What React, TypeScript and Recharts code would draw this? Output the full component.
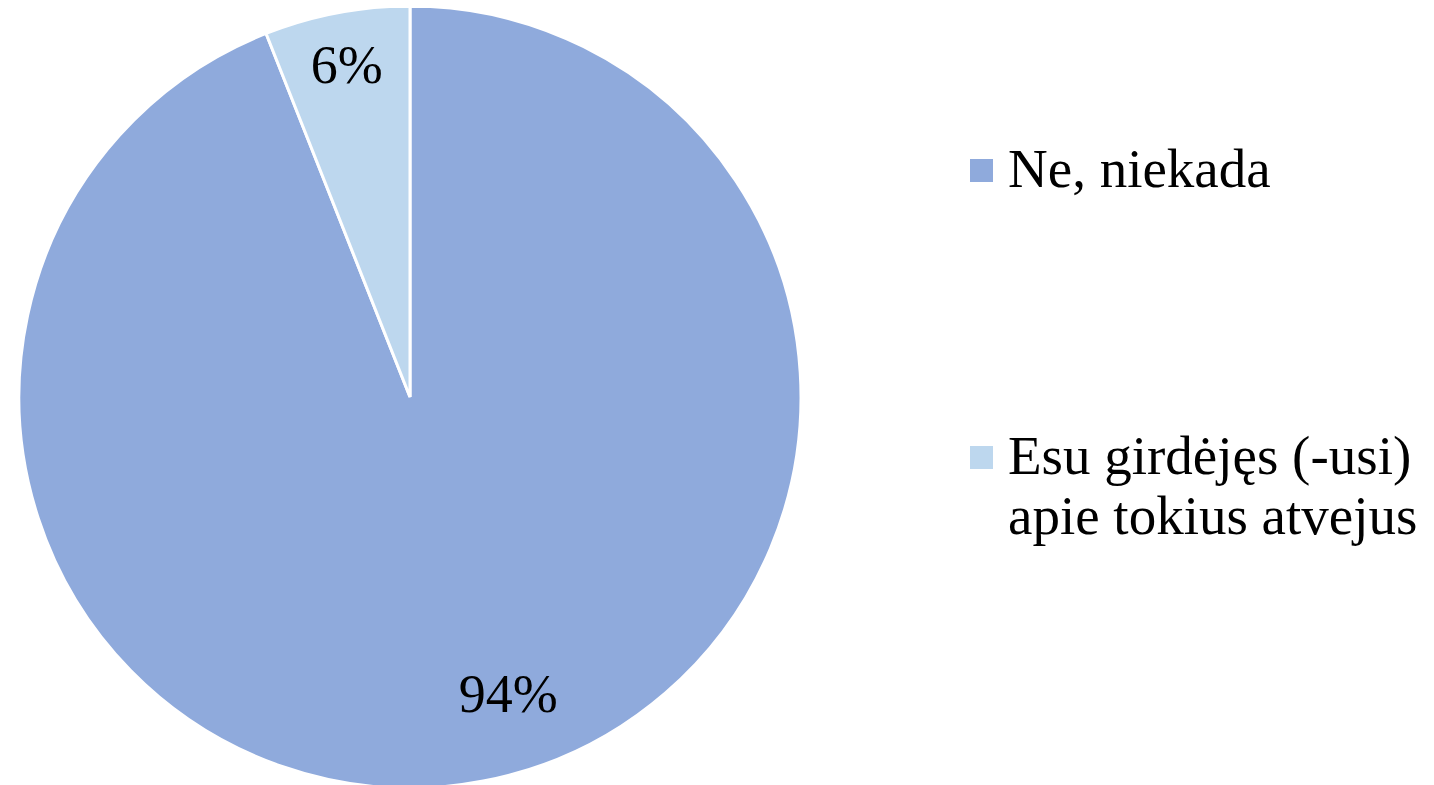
import { Legend, Pie, PieChart, Cell } from "recharts";

const categories = ["Ne, niekada", "Esu girdėjęs (-usi) apie tokius atvejus"];
const shares = [94, 6];
const colors = ["#8FAADC", "#BDD7EE"];

const data = categories.map((name, i) => ({ name, value: shares[i] }));

const FONT = '"Liberation Serif", "Times New Roman", serif';
const RAD = Math.PI / 180;

// Excel "best fit" puts the big label a bit off its mid angle
const labelRadius = [0.8, 0.865];
const labelShift = [7.5, 0];

function renderLabel(props: any) {
  const { cx, cy, midAngle, outerRadius, index, value } = props;
  const r = outerRadius * labelRadius[index];
  const a = (midAngle + labelShift[index]) * RAD;
  const x = cx + r * Math.cos(-a);
  const y = cy + r * Math.sin(-a);
  return (
    <text
      x={x}
      y={y}
      textAnchor="middle"
      dominantBaseline="central"
      fill="#000"
      fontFamily={FONT}
      fontSize={54}
    >
      {`${value}%`}
    </text>
  );
}

function LegendBox() {
  const lines = [["Ne, niekada"], ["Esu girdėjęs (-usi)", "apie tokius atvejus"]];
  const tops = [0, 287];
  return (
    <div style={{ position: "relative", width: 470, height: 420, fontFamily: FONT }}>
      {lines.map((ls, i) => (
        <div key={i} style={{ position: "absolute", top: tops[i], left: 0 }}>
          <div
            style={{
              position: "absolute",
              left: 0,
              top: 20,
              width: 23,
              height: 23,
              background: colors[i],
            }}
          />
          <div
            style={{
              marginLeft: 38,
              fontSize: 55,
              lineHeight: "60px",
              color: "#000",
              whiteSpace: "nowrap",
            }}
          >
            {ls.map((l, j) => (
              <div key={j}>{l}</div>
            ))}
          </div>
        </div>
      ))}
    </div>
  );
}

export default function App() {
  return (
    <PieChart width={1418} height={777} margin={{ top: 0, right: 0, left: 0, bottom: 0 }}>
      <Pie
        data={data}
        dataKey="value"
        nameKey="name"
        cx={402}
        cy={389}
        outerRadius={391}
        startAngle={90}
        endAngle={-270}
        stroke="#fff"
        strokeWidth={3}
        label={renderLabel}
        labelLine={false}
        isAnimationActive={false}
      >
        {data.map((d, i) => (
          <Cell key={d.name} fill={colors[i]} />
        ))}
      </Pie>
      <Legend
        layout="vertical"
        content={() => <LegendBox />}
        wrapperStyle={{ left: 962, top: 131, width: 470 }}
      />
    </PieChart>
  );
}
